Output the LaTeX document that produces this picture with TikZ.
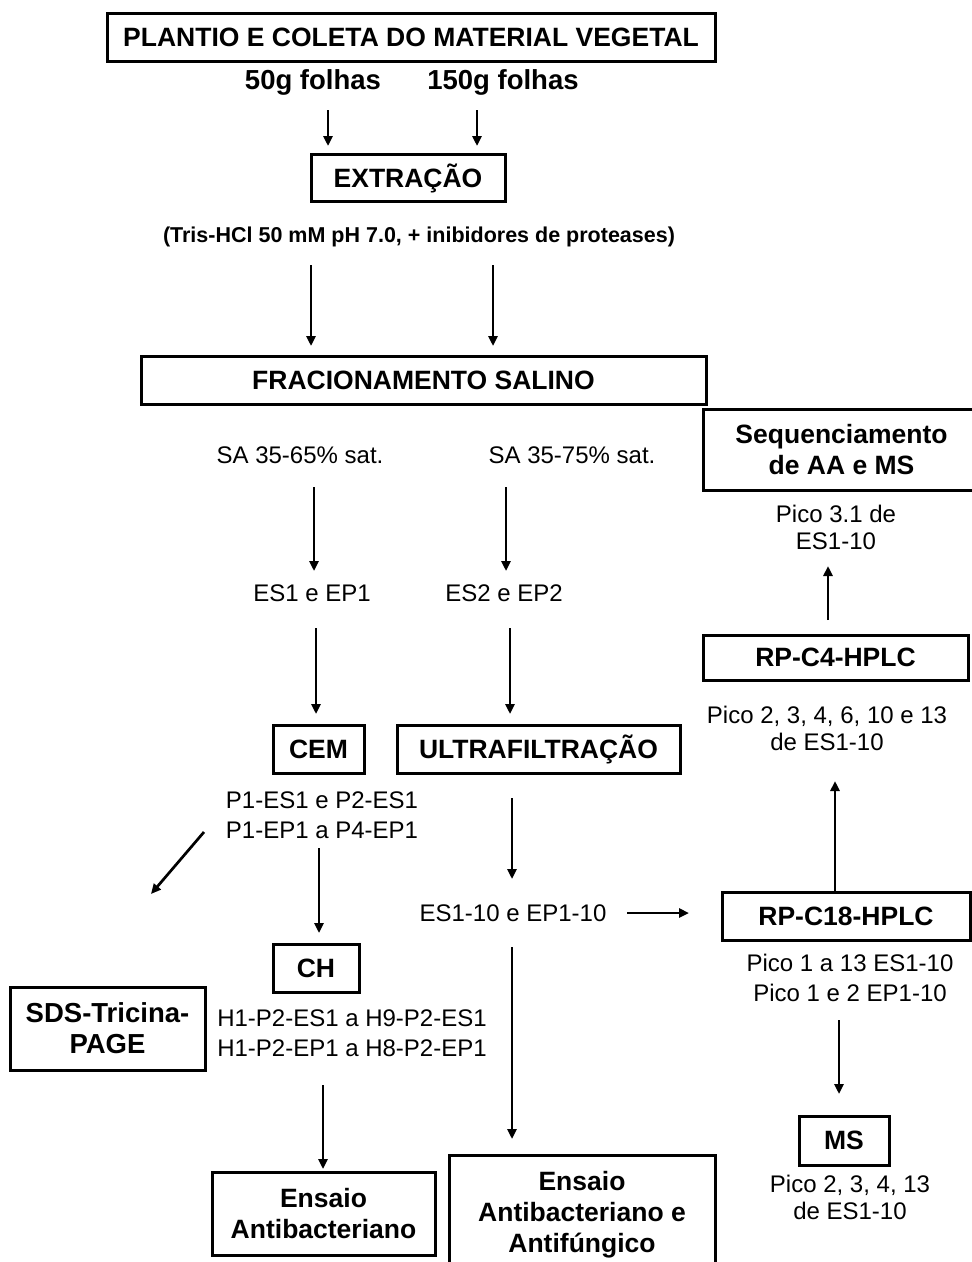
\documentclass[tikz,border=0pt]{standalone}
\usepackage{fontspec}
\setmainfont{Liberation Sans}
\usetikzlibrary{arrows.meta}
\newcommand\bfbig{\fontsize{26.5}{31}\selectfont\bfseries}
\newcommand\bfmid{\fontsize{27.5}{31}\selectfont\bfseries}
\newcommand\bfsmall{\fontsize{21.5}{25}\selectfont\bfseries}
\newcommand\rgtext{\fontsize{24}{30}\selectfont}
\newcommand\rgtight{\fontsize{24}{27.5}\selectfont}
\tikzset{
  box/.style={draw, line width=3pt, inner sep=0pt, align=center, font=\bfbig},
  lbl/.style={inner sep=0pt, align=center, font=\rgtext},
  blbl/.style={inner sep=0pt, align=center, font=\bfmid},
  arr/.style={line width=2.7pt, -{Triangle[length=10pt,width=9pt]}}
}
\begin{document}
\begin{tikzpicture}[x=1pt, y=-1pt]
\useasboundingbox (0,0) rectangle (972,1262);
\clip (0,0) rectangle (972,1262);
\fill[white] (0,0) rectangle (972,1262);

% boxes
\node[box, minimum width=608pt, minimum height=48pt] (plantio) at (411,37) {PLANTIO E COLETA DO MATERIAL VEGETAL};
\node[box, minimum width=194pt, minimum height=47pt] (extr) at (408,178) {EXTRAÇÃO};
\node[box, minimum width=565pt, minimum height=48pt] (frac) at (423.5,380) {FRACIONAMENTO SALINO};
\node[box, minimum width=277pt, minimum height=81pt] (seq) at (841.5,449.5) {Sequenciamento\\de AA e MS};
\node[box, minimum width=265pt, minimum height=45pt] (rpc4) at (835.5,657.5) {RP-C4-HPLC};
\node[box, minimum width=91pt, minimum height=48pt] (cem) at (318.5,749) {CEM};
\node[box, minimum width=283pt, minimum height=48pt] (ultra) at (538.5,749) {ULTRAFILTRAÇÃO};
\node[box, minimum width=86pt, minimum height=48pt] (ch) at (316,968) {CH};
\node[box, font=\bfmid, minimum width=195pt, minimum height=83pt] (sds) at (107.5,1028.5) {SDS-Tricina-\\PAGE};
\node[box, minimum width=248pt, minimum height=48pt] (rpc18) at (846,916) {RP-C18-HPLC};
\node[box, minimum width=90pt, minimum height=49pt] (ms) at (844,1140.5) {MS};
\node[box, minimum width=223pt, minimum height=83pt] (ens1) at (323.5,1213.5) {Ensaio\\Antibacteriano};
\node[box, minimum width=266pt, minimum height=120pt] (ens2) at (582,1215) {Ensaio\\Antibacteriano e\\Antifúngico};

% labels
\node[blbl] (f50) at (313,82) {50g folhas};
\node[blbl] (f150) at (503,82) {150g folhas};
\node[inner sep=0pt, font=\bfsmall] (tris) at (419,237) {(Tris-HCl 50 mM pH 7.0, + inibidores de proteases)};
\node[lbl] (sa65) at (300,455) {SA 35-65\% sat.};
\node[lbl] (sa75) at (572,455) {SA 35-75\% sat.};
\node[lbl] (es1) at (312,593) {ES1 e EP1};
\node[lbl] (es2) at (504,593) {ES2 e EP2};
\node[lbl] (p1) at (322,815) {P1-ES1 e P2-ES1\\P1-EP1 a P4-EP1};
\node[lbl] (h1) at (352,1033) {H1-P2-ES1 a H9-P2-ES1\\H1-P2-EP1 a H8-P2-EP1};
\node[lbl] (es110) at (513,913) {ES1-10 e EP1-10};
\node[lbl, font=\rgtight] (pico31) at (836,527.5) {Pico 3.1 de\\ES1-10};
\node[lbl, font=\rgtight] (pico2) at (827,728.5) {Pico 2, 3, 4, 6, 10 e 13\\de ES1-10};
\node[lbl] (pico113) at (850,978) {Pico 1 a 13 ES1-10\\Pico 1 e 2 EP1-10};
\node[lbl, font=\rgtight] (pico2313) at (850,1197.5) {Pico 2, 3, 4, 13\\de ES1-10};

% arrow end points
\coordinate (a1s) at (328,110);  \coordinate (a1e) at (328,146);
\coordinate (a2s) at (477,110);  \coordinate (a2e) at (477,146);
\coordinate (a3s) at (311,265);  \coordinate (a3e) at (311,346);
\coordinate (a4s) at (493,265);  \coordinate (a4e) at (493,346);
\coordinate (a5s) at (314,487);  \coordinate (a5e) at (314,571);
\coordinate (a6s) at (506,487);  \coordinate (a6e) at (506,571);
\coordinate (a7s) at (316,628);  \coordinate (a7e) at (316,714);
\coordinate (a8s) at (510,628);  \coordinate (a8e) at (510,714);
\coordinate (a9s) at (204,832);  \coordinate (a9e) at (151,894);
\coordinate (a10s) at (319,848); \coordinate (a10e) at (319,933);
\coordinate (a11s) at (512,798); \coordinate (a11e) at (512,879);
\coordinate (a12s) at (627,913); \coordinate (a12e) at (689,913);
\coordinate (a13s) at (512,947); \coordinate (a13e) at (512,1139);
\coordinate (a14s) at (323,1085);\coordinate (a14e) at (323,1169);
\coordinate (a15s) at (839,1020);\coordinate (a15e) at (839,1094);
\coordinate (a16s) at (835,891); \coordinate (a16e) at (835,781);
\coordinate (a17s) at (828,620); \coordinate (a17e) at (828,566);

\foreach \i in {1,...,17} \draw[arr] (a\i s) -- (a\i e);
\end{tikzpicture}
\end{document}
